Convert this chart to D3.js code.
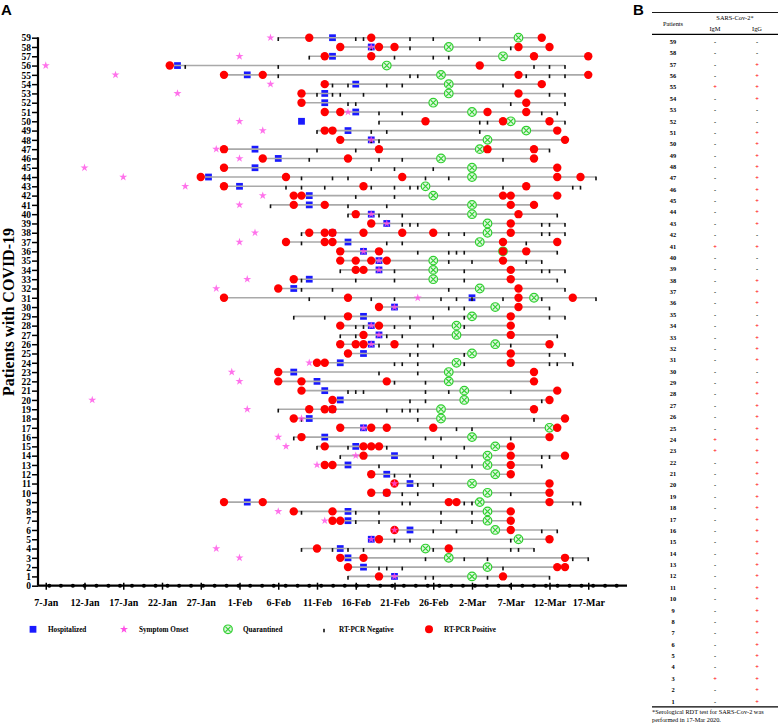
<!DOCTYPE html>
<html><head><meta charset="utf-8">
<script src="https://cdn.jsdelivr.net/npm/d3@7"></script>
<style>body{margin:0;background:#fff}</style>
</head><body>
<svg id="c" width="778" height="724" xmlns="http://www.w3.org/2000/svg"></svg>
<script>
// ---------------- DATA (days since 7-Jan-2020) ----------------
const patientIds = d3.range(59, 0, -1);
const onsetDay = [29,42,25,0,9,29,17,null,39,25,28,42,22,25,5,10,18,28,25,42,44,27,25,41,43,43,26,22,48,45,
  null,42,43,42,null,34,24,25,null,6,26,33,41,30,31,40,35,null,45,null,null,30,36,45,42,22,25,null,45];
const hospDay = [37,42,37,17,26,40,36,36,40,33,39,42,27,30,27,21,25,34,34,42,44,37,39,41,43,43,34,32,55,45,
  41,42,43,42,41,38,32,35,36,38,37,34,41,36,40,45,39,44,47,44,26,39,39,47,42,38,39,41,45];
const quarDay = [61,52,59,44,51,52,52,50,55,60,62,57,56,51,55,55,49,50,55,55,57,57,56,59,50,50,50,56,63,58,
  55,53,53,58,55,53,52,52,54,54,51,51,65,55,58,57,57,58,55,57,56,57,57,58,61,49,52,57,55];
const negDays = [
  [30,40,41,47,50,56],[42,47,60],[34,45,50,52],[18,30,63,65,67],[30,47,48,62,65,67],
  [37,39,44,46,59],[35,37,38,41,65,67],[39,40,60,67],[43,46,64,66],[43,56,57,67],
  [35,42,44,56],[42,43],[35,40,65],[34,43,46,59],[42,45,50],
  [33,37,39,49,52,71],[31,33,36,42,45,47,48,59,68,69],[40,45],[29,39,44],[39,43,46,66],
  [46,47,48,64,65,67],[33,52,54,64,65,67],[33,44,46,62],[48,52,53,54,66],[52,55,62,64],
  [38,45,54,64,65,67],[33,40,45,54,66],[33,37,52,67],[34,42,45,51,53,55,59,64,71],[52,54,65],
  [32,36,47,50,54,65,67],[40,41,45,47,54],[38,40,44,46,66],[43,48,50,60],[47,48,54,65,67],
  [45,46,48,54,65,66,68],[43,48],[45,49],[39,40,41,49,52,60],[47,49,64],
  [30,44,46,47,48],[33,48,63],[53,55],[32,49,51,60],[35,39,44,54],
  [38,50,53,64,65],[43,51,55,64],[45,47],[48,50],[46,48,60],
  [46,47,54,55,68,69],[33,40,43,51,55],[40,43,51,55],[50,53,64,66],[45,47,60],
  [33,37,39,41,50,60,61,63],[49,54,57,68,70],[43,44,46,59],[39,49,50,57,65]
];
const posDays = [
  [34,42,64],[38,43,45,61,65],[36,42,63,70],[16,56],[23,28,61,70],
  [36,64],[33,61],[33,62],[36,38,57,62],[49,59,65],
  [36,37,66],[38,67],[23,43,57,63],[28,39,63],[23,66],
  [20,31,46,66,69],[23,41,62],[32,33,59,60,66],[32,36,60,63],[40,61],
  [42,60],[34,36,37,41,46,50,60],[31,36,37,59,66],[38,43,59,62],[38,40,42,44,59],
  [40,41,60],[32,60],[30,61],[23,39,61,68],[43,61],
  [39,60],[38,43,60],[41,60],[38,40,41,45,65],[39,60],
  [35,36,60],[30,63],[30,33,44,63],[33,66],[37,65],
  [34,36,37,63],[32,67],[38,42,44,50,66],[33,65],[36,41,42,43,60],
  [41,60,67],[36,37,60],[42,60],[45,65],[42,44,65],
  [23,28,52,53,65],[32,37,60],[37,38,60],[45,60],[43,65],
  [35,52],[38,41,67],[39,66,67],[43,59]
];
const xTickDays = [0,5,10,15,20,25,30,35,40,45,50,55,60,65,70];
const legendLabels = ["Hospitalized","Symptom Onset","Quarantined","RT-PCR Negative","RT-PCR Positive"];
const igM = ["-","-","-","-","+","-","-","-","-","-","-","-","-","-","-","-","-","-","+","-",
  "-","-","-","-","-","-","-","-","-","-","-","-","-","-","-","+","+","-","-","-",
  "-","-","-","-","-","-","-","-","-","-","-","-","-","-","-","-","+","-","-"];
const igG = ["-","-","+","+","+","+","-","-","+","+","+","+","+","+","+","+","+","-","+","-",
  "-","+","+","+","-","+","+","+","+","-","+","+","+","+","+","+","+","+","+","+",
  "+","+","+","+","+","+","+","+","+","+","+","+","+","+","+","+","+","+","+"];

// ---------------- SETUP ----------------
const svg = d3.select("#c");
const serif = "'Liberation Serif','Times New Roman',serif";
const base = new Date(2020, 0, 7);
const toDate = d => d3.timeDay.offset(base, d);
const x = d3.scaleTime().domain([toDate(-1), toDate(75.1)]).range([38, 627]);
const y = d3.scaleLinear().domain([0, 59]).range([585.7, 37.7]);

const C = {blue:"#1a1aff", red:"#ff0000", pink:"#ff4fe6", green:"#2fcf2f", line:"#a9a9a9"};

const rows = patientIds.map((id, i) => ({
  id, onset: onsetDay[i], hosp: hospDay[i], quar: quarDay[i], neg: negDays[i], pos: posDays[i]
}));

// panel labels
svg.append("text").attr("x", 1).attr("y", 15).text("A")
  .attr("font-family","Arial, 'Liberation Sans', sans-serif").attr("font-weight","bold").attr("font-size",15);
svg.append("text").attr("x", 633).attr("y", 15).text("B")
  .attr("font-family","Arial, 'Liberation Sans', sans-serif").attr("font-weight","bold").attr("font-size",15);

// ---------------- MARKERS ----------------
const g = svg.append("g");
const starPath = d3.symbol().type(d3.symbolStar).size(20)();
const sqPath = d3.symbol().type(d3.symbolSquare).size(46)();

function drawQuar(sel, cx, cy) {
  const q = sel.append("g").attr("transform", `translate(${cx},${cy})`);
  q.append("circle").attr("r", 4.3).attr("fill", "#dff7df").attr("stroke", C.green).attr("stroke-width", 1.2);
  q.append("path").attr("d", "M-2.6,-2.6L2.6,2.6M2.6,-2.6L-2.6,2.6").attr("stroke", C.green).attr("stroke-width", 1.1);
}

// hospitalized squares (under the line)
g.selectAll(".hosp").data(rows).join("path").attr("class","hosp")
  .attr("d", sqPath).attr("fill", C.blue)
  .attr("transform", d => `translate(${x(toDate(d.hosp))},${y(d.id)})`);

// test-period lines
g.selectAll(".tl").data(rows).join("line").attr("class","tl")
  .attr("x1", d => x(toDate(d3.min(d.neg.concat(d.pos)))))
  .attr("x2", d => x(toDate(d3.max(d.neg.concat(d.pos)))))
  .attr("y1", d => y(d.id)).attr("y2", d => y(d.id))
  .attr("stroke", C.line).attr("stroke-width", 1.6);

// negatives
rows.forEach(r => {
  g.selectAll(null).data(r.neg).join("rect")
    .attr("x", d => x(toDate(d)) - 0.8).attr("y", y(r.id) - 0.5)
    .attr("width", 1.6).attr("height", 3.8).attr("fill", "#111");
});
// quarantine
rows.forEach(r => drawQuar(g, x(toDate(r.quar)), y(r.id)));
// positives
rows.forEach(r => {
  g.selectAll(null).data(r.pos).join("circle")
    .attr("cx", d => x(toDate(d))).attr("cy", y(r.id)).attr("r", 4.2).attr("fill", C.red);
});
// onset stars
g.selectAll(".star").data(rows.filter(r => r.onset !== null)).join("path").attr("class","star")
  .attr("d", starPath).attr("fill", C.pink).attr("fill-opacity", 0.8)
  .attr("transform", d => `translate(${x(toDate(d.onset))},${y(d.id)})`);

// ---------------- AXES ----------------
const yAxis = svg.append("g").attr("transform","translate(38,0)")
  .call(d3.axisLeft(y).tickValues(d3.range(0, 60)).tickSize(6).tickPadding(1).tickFormat(d3.format("d")));
yAxis.select(".domain").attr("stroke","#000").attr("stroke-width",2.2).attr("d","M0,37.2V585.7");
yAxis.selectAll(".tick line").attr("stroke","#000").attr("stroke-width",1.5);
yAxis.selectAll(".tick text").attr("font-family", serif).attr("font-weight","bold")
  .attr("font-size", 9.5).attr("fill","#000").attr("dy","0.34em");

const xAxis = svg.append("g").attr("transform", `translate(0,${y(0)})`)
  .call(d3.axisBottom(x).tickValues(xTickDays.map(toDate)).tickSize(4).tickPadding(9)
    .tickFormat(d3.timeFormat("%-d-%b")));
xAxis.select(".domain").attr("stroke","#000").attr("stroke-width",2.2).attr("d","M38,0H627");
xAxis.selectAll(".tick line").attr("stroke","#000").attr("stroke-width",1.5).attr("y1",-3);
xAxis.selectAll(".tick text").attr("font-family", serif).attr("font-weight","bold")
  .attr("font-size", 10).attr("fill","#000");
// axis minor dots
xAxis.selectAll(".mdot").data(d3.range(0.46, 74.5, 1.526)).join("circle").attr("class","mdot")
  .attr("cx", d => x(d3.timeHour.offset(base, d * 24))).attr("cy", 0).attr("r", 2).attr("fill","#000");

// y-axis title
svg.append("text").attr("transform","translate(14,312) rotate(-90)").attr("text-anchor","middle")
  .attr("font-family", serif).attr("font-weight","bold").attr("font-size",16).text("Patients with COVID-19");

// ---------------- LEGEND ----------------
const legX = [33, 124, 228, 324, 429];
const ly = 629.3;
const leg = svg.append("g");
leg.append("path").attr("d", sqPath).attr("fill", C.blue).attr("transform", `translate(${legX[0]},${ly})`);
leg.append("path").attr("d", starPath).attr("fill", C.pink).attr("transform", `translate(${legX[1]},${ly})`);
drawQuar(leg, legX[2], ly);
leg.append("rect").attr("x", legX[3]-0.8).attr("y", ly-0.5).attr("width",1.6).attr("height",3.5).attr("fill","#111");
leg.append("circle").attr("cx", legX[4]).attr("cy", ly).attr("r", 4).attr("fill", C.red);
leg.selectAll(".lt").data(legendLabels).join("text").attr("class","lt")
  .attr("x", (d,i) => legX[i] + 15).attr("y", ly + 2.5).text(d => d)
  .attr("font-family", serif).attr("font-weight","bold").attr("font-size", 7.2);

// ---------------- TABLE B ----------------
const tb = svg.append("g").attr("font-family", serif).attr("font-size", 6.4).attr("fill","#000");
const tx0 = 652, tx1 = 778, colP = 673, colM = 715, colG = 757;
tb.append("line").attr("x1",tx0).attr("x2",tx1).attr("y1",12.5).attr("y2",12.5).attr("stroke","#000").attr("stroke-width",0.9);
tb.append("line").attr("x1",tx0).attr("x2",tx1).attr("y1",34.3).attr("y2",34.3).attr("stroke","#000").attr("stroke-width",1.3);
tb.append("line").attr("x1",tx0).attr("x2",tx1).attr("y1",706.8).attr("y2",706.8).attr("stroke","#000").attr("stroke-width",1.3);
tb.append("text").attr("x", 735).attr("y", 20).attr("text-anchor","middle").text("SARS-Cov-2*");
tb.append("text").attr("x", colP).attr("y", 25.5).attr("text-anchor","middle").text("Patients");
tb.append("text").attr("x", colM).attr("y", 31).attr("text-anchor","middle").text("IgM");
tb.append("text").attr("x", colG).attr("y", 31).attr("text-anchor","middle").text("IgG");
const ty = d3.scaleLinear().domain([0, 58]).range([41.7, 701.3]);
patientIds.forEach((id, i) => {
  const yy = ty(i) + 2.2;
  tb.append("text").attr("x", colP).attr("y", yy).attr("text-anchor","middle").attr("font-weight","bold").text(id);
  tb.append("text").attr("x", colM).attr("y", yy).attr("text-anchor","middle")
    .attr("fill", igM[i] === "+" ? C.red : "#000").attr("font-weight","bold").text(igM[i]);
  tb.append("text").attr("x", colG).attr("y", yy).attr("text-anchor","middle")
    .attr("fill", igG[i] === "+" ? C.red : "#000").attr("font-weight","bold").text(igG[i]);
});
tb.append("text").attr("x", tx0).attr("y", 714).attr("font-size",6.3).text("*Serological RDT test for SARS-Cov-2 was");
tb.append("text").attr("x", tx0).attr("y", 722).attr("font-size",6.3).text("performed in 17-Mar 2020.");
</script>
</body></html>
